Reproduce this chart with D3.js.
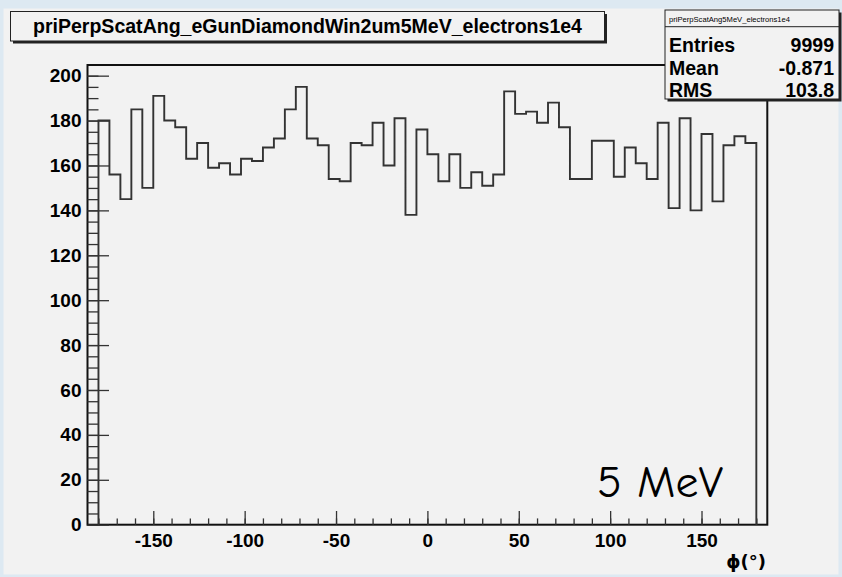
<!DOCTYPE html>
<html>
<head>
<meta charset="utf-8">
<script src="https://cdn.jsdelivr.net/npm/d3@7"></script>
<style>
  html, body { margin: 0; padding: 0; background: #dde9f2; }
  svg { display: block; }
  text { font-family: "Liberation Sans", Arial, Helvetica, sans-serif; }
</style>
</head>
<body>
<svg id="chart" width="842" height="577"></svg>
<script>
// Histogram: lower edge of each 6-degree bin and its count
const binLow = [
  -180, -174, -168, -162, -156, -150, -144, -138, -132, -126,
  -120, -114, -108, -102,  -96,  -90,  -84,  -78,  -72,  -66,
   -60,  -54,  -48,  -42,  -36,  -30,  -24,  -18,  -12,   -6,
     0,    6,   12,   18,   24,   30,   36,   42,   48,   54,
    60,   66,   72,   78,   84,   90,   96,  102,  108,  114,
   120,  126,  132,  138,  144,  150,  156,  162,  168,  174
];
const binWidth = 6;
const counts = [
  180, 156, 145, 185, 150, 191, 180, 177, 163, 170,
  159, 161, 156, 163, 162, 168, 172, 185, 195, 172,
  169, 154, 153, 170, 169, 179, 160, 181, 138, 176,
  165, 153, 165, 150, 157, 151, 156, 193, 183, 184,
  179, 188, 177, 154, 154, 171, 171, 155, 168, 161,
  154, 179, 141, 181, 140, 174, 144, 169, 173, 170
];

const xRange = [-186, 186];
const xTickLabels = [-150, -100, -50, 0, 50, 100, 150];
const yTickLabels = [0, 20, 40, 60, 80, 100, 120, 140, 160, 180, 200];

const histTitle = "priPerpScatAng_eGunDiamondWin2um5MeV_electrons1e4";
const statsName = "priPerpScatAng5MeV_electrons1e4";
const statsLabels = ["Entries", "Mean", "RMS"];
const statsValues = ["9999", "-0.871", "103.8"];
const xAxisTitle = "\u03d5(\u00b0)";
const energyLabel = "5 MeV";

const svg = d3.select("#chart");

// canvas
svg.append("rect").attr("x", 3.5).attr("y", 8.5).attr("width", 835).attr("height", 566)
  .attr("fill", "#f2f2f2");

const frame = { left: 87.5, right: 767.3, top: 65, bottom: 524.7 };

const x = d3.scaleLinear().domain(xRange).range([frame.left, frame.right]);
const y = d3.scaleLinear().domain([0, 1.05 * d3.max(counts)]).range([frame.bottom, frame.top]);

// frame
svg.append("rect")
  .attr("x", frame.left).attr("y", frame.top)
  .attr("width", frame.right - frame.left).attr("height", frame.bottom - frame.top)
  .attr("fill", "none").attr("stroke", "#111").attr("stroke-width", 2);

// minor ticks
const xMinor = d3.axisBottom(x).tickValues(d3.range(-180, 181, 10))
  .tickSizeInner(-6.3).tickSizeOuter(0).tickFormat("");
const yMinor = d3.axisLeft(y).tickValues(d3.range(0, 201, 5))
  .tickSizeInner(-11).tickSizeOuter(0).tickFormat("");

// major ticks with labels
const xMajor = d3.axisBottom(x).tickValues(xTickLabels)
  .tickSizeInner(-13.7).tickSizeOuter(0).tickPadding(8.5).tickFormat(d => String(d));
const yMajor = d3.axisLeft(y).tickValues(yTickLabels)
  .tickSizeInner(-21.5).tickSizeOuter(0).tickPadding(6).tickFormat(d => String(d));

function styleAxis(g) {
  g.select(".domain").remove();
  g.selectAll(".tick line").attr("stroke", "#333").attr("stroke-width", 1.3);
  g.selectAll(".tick text").attr("fill", "#000")
    .style("font-family", "'Liberation Sans', Arial, sans-serif")
    .style("font-weight", "bold").style("font-size", "19px");
}

svg.append("g").attr("transform", `translate(0,${frame.bottom})`).call(xMinor).call(styleAxis);
svg.append("g").attr("transform", `translate(0,${frame.bottom})`).call(xMajor).call(styleAxis);
svg.append("g").attr("transform", `translate(${frame.left},0)`).call(yMinor).call(styleAxis);
svg.append("g").attr("transform", `translate(${frame.left},0)`).call(yMajor).call(styleAxis);

// histogram outline
const pts = [[binLow[0], 0]];
binLow.forEach((lo, i) => {
  pts.push([lo, counts[i]]);
  pts.push([lo + binWidth, counts[i]]);
});
pts.push([binLow[binLow.length - 1] + binWidth, 0]);

svg.append("path")
  .attr("d", d3.line().x(d => x(d[0])).y(d => y(d[1]))(pts))
  .attr("fill", "none").attr("stroke", "#333").attr("stroke-width", 1.9)
  .attr("stroke-linejoin", "miter");

// title pave
const tb = { x: 10.5, y: 11.5, w: 594, h: 29.5 };
svg.append("rect").attr("x", tb.x + 2.5).attr("y", tb.y + 2.5).attr("width", tb.w).attr("height", tb.h)
  .attr("fill", "#222");
svg.append("rect").attr("x", tb.x).attr("y", tb.y).attr("width", tb.w).attr("height", tb.h)
  .attr("fill", "#f2f2f2").attr("stroke", "#222").attr("stroke-width", 1);
svg.append("text")
  .attr("x", tb.x + tb.w / 2).attr("y", 33.3)
  .attr("text-anchor", "middle")
  .attr("textLength", 549).attr("lengthAdjust", "spacingAndGlyphs")
  .style("font-weight", "bold").style("font-size", "19.5px")
  .text(histTitle);

// stats pave
const sb = { x: 665, y: 10, w: 174, h: 89 };
svg.append("rect").attr("x", sb.x + 2.5).attr("y", sb.y + 2.5).attr("width", sb.w).attr("height", sb.h)
  .attr("fill", "#222");
svg.append("rect").attr("x", sb.x).attr("y", sb.y).attr("width", sb.w).attr("height", sb.h)
  .attr("fill", "#f2f2f2").attr("stroke", "#222").attr("stroke-width", 1);
svg.append("line").attr("x1", sb.x).attr("x2", sb.x + sb.w).attr("y1", 26.7).attr("y2", 26.7)
  .attr("stroke", "#222").attr("stroke-width", 1);
svg.append("text").attr("x", 669).attr("y", 21.5)
  .attr("textLength", 121).attr("lengthAdjust", "spacingAndGlyphs")
  .style("font-size", "8px").text(statsName);

const rowY = [51.5, 75, 97];
statsLabels.forEach((lab, i) => {
  svg.append("text").attr("x", 669).attr("y", rowY[i])
    .style("font-weight", "bold").style("font-size", "19.5px").text(lab);
  svg.append("text").attr("x", 834).attr("y", rowY[i]).attr("text-anchor", "end")
    .style("font-weight", "bold").style("font-size", "19.5px").text(statsValues[i]);
});

// axis title
svg.append("text").attr("x", 766).attr("y", 568).attr("text-anchor", "end")
  .style("font-family", "'DejaVu Sans', sans-serif").style("font-size", "18px")
  .style("font-weight", "bold")
  .text(xAxisTitle);

// energy label
svg.append("text").attr("x", 597).attr("y", 496.5)
  .attr("textLength", 126).attr("lengthAdjust", "spacingAndGlyphs")
  .style("font-family", "'Comic Sans MS', 'Comic Neue', 'DejaVu Sans', sans-serif")
  .style("font-size", "44px")
  .text(energyLabel);
</script>
</body>
</html>
